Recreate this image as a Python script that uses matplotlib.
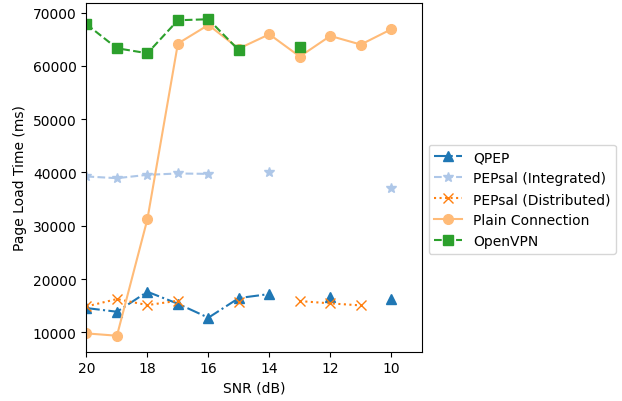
import numpy as np
import matplotlib
matplotlib.use('Agg')
import matplotlib.pyplot as plt

nan = np.nan

snr = [20, 19, 18, 17, 16, 15, 14, 13, 12, 11, 10]

qpep = [14560, 13870, 17620, 15370, 12750, 16440, 17190, nan, 16560, nan, 16190]
pepsal_int = [39250, 38930, 39560, 39810, 39740, nan, 40060, nan, nan, nan, 37000]
pepsal_dist = [14870, 16250, 15120, 15930, nan, 15620, nan, 15870, 15440, 15060, nan]
plain = [9810, 9370, 31250, 64190, 67680, 63250, 65930, 61750, 65620, 64000, 66870]
openvpn = [67810, 63310, 62370, 68560, 68750, 62940, nan, 63560, nan, nan, nan]

fig = plt.figure(figsize=(6.22, 4.02), dpi=100)
ax = fig.add_axes([0.139, 0.123, 0.539, 0.866])

ax.plot(snr, qpep, '-.', marker='^', color='tab:blue', markersize=7, label='QPEP')
ax.plot(snr, pepsal_int, '--', marker='*', color='#aec7e8', markersize=7, label='PEPsal (Integrated)')
ax.plot(snr, pepsal_dist, ':', marker='x', color='tab:orange', markersize=7, label='PEPsal (Distributed)')
ax.plot(snr, plain, '-', marker='o', color='#ffbb78', markersize=7, label='Plain Connection')
ax.plot(snr, openvpn, '--', marker='s', color='tab:green', markersize=7, label='OpenVPN')

ax.set_xlim(20, 9)
ax.set_xticks([20, 18, 16, 14, 12, 10])
ax.set_xlabel('SNR (dB)')
ax.set_ylabel('Page Load Time (ms)')

ax.legend(loc='center left', bbox_to_anchor=(1.0, 0.438))

fig.savefig('out.png', dpi=100)
